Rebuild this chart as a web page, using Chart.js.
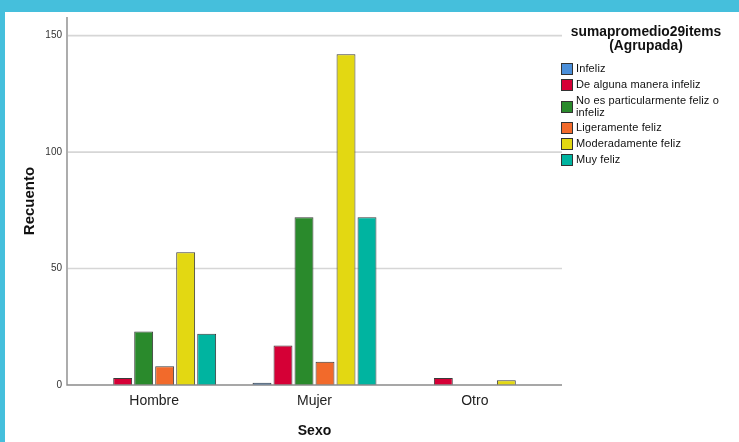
<!DOCTYPE html>
<html>
<head>
<meta charset="utf-8">
<script src="https://cdn.jsdelivr.net/npm/chart.js@4/dist/chart.umd.min.js"></script>
<style>
  html, body { margin: 0; padding: 0; }
  body { width: 739px; height: 442px; background: #45BFDC; position: relative; overflow: hidden; font-family: "Liberation Sans", Arial, sans-serif; }
  #panel { position: absolute; left: 5px; top: 12px; width: 734px; height: 430px; background: #ffffff; }
  #c { position: absolute; left: 0; top: 0; }
  #legend { position: absolute; left: 556px; top: 13px; width: 180px; color: #111; }
  #legend .title { font-weight: bold; font-size: 13.8px; line-height: 14px; text-align: center; width: 170px; color: #111; }
  #legend .items { margin-top: 8px; }
  #legend .item { display: flex; align-items: center; min-height: 16px; }
  #legend .item.two { min-height: 27px; }
  #legend .box { width: 10px; height: 10px; border: 1px solid #333; flex: 0 0 auto; margin-right: 3px; }
  #legend .txt { font-size: 11px; line-height: 11.5px; letter-spacing: 0.12px; width: 150px; color: #111; }
</style>
</head>
<body>
<div id="panel">
  <canvas id="c" width="734" height="430"></canvas>
  <div id="legend"></div>
</div>
<script>
const categories = ["Hombre", "Mujer", "Otro"];
const seriesNames = ["Infeliz", "De alguna manera infeliz", "No es particularmente feliz o infeliz", "Ligeramente feliz", "Moderadamente feliz", "Muy feliz"];
const infeliz = [0, 1, 0];
const algunaInfeliz = [3, 17, 3];
const noEsParticular = [23, 72, 0];
const ligeramente = [8, 10, 0];
const moderadamente = [57, 142, 2];
const muyFeliz = [22, 72, 0];
const seriesColors = ["#4A8FDA", "#D50036", "#2A8A2C", "#F26A2B", "#E3D812", "#00B4A0"];
const yTicks = [0, 50, 100, 150];
const legendTitle = ["sumapromedio29items", "(Agrupada)"];
const xTitle = "Sexo";
const yTitle = "Recuento";

const allSeries = [infeliz, algunaInfeliz, noEsParticular, ligeramente, moderadamente, muyFeliz];

const EXT = 7;
const axisLines = {
  id: 'axisLines',
  beforeDatasetsDraw(chart) {
    const { ctx, chartArea: a, scales: { y } } = chart;
    ctx.save();
    ctx.strokeStyle = '#d6d6d6';
    ctx.lineWidth = 1.6;
    y.ticks.forEach(t => {
      if (t.value === 0) return;
      const py = y.getPixelForValue(t.value);
      ctx.beginPath(); ctx.moveTo(a.left - EXT + 1, py); ctx.lineTo(a.right + EXT, py); ctx.stroke();
    });
    ctx.restore();
  },
  afterDatasetsDraw(chart) {
    const { ctx, chartArea: a, scales: { y } } = chart;
    ctx.save();
    ctx.strokeStyle = '#8a8a8a';
    ctx.lineWidth = 1.4;
    const by = y.getPixelForValue(0);
    ctx.beginPath(); ctx.moveTo(a.left - EXT, a.top); ctx.lineTo(a.left - EXT, by); ctx.lineTo(a.right + EXT, by); ctx.stroke();
    ctx.restore();
  }
};

const chart = new Chart(document.getElementById('c'), {
  type: 'bar',
  data: {
    labels: categories,
    datasets: allSeries.map((d, i) => ({
      label: seriesNames[i],
      data: d,
      backgroundColor: seriesColors[i],
      borderColor: '#3a3a3a',
      borderWidth: ctx => (ctx.raw === 0 ? 0 : 1),
      borderSkipped: 'start',
      barPercentage: 0.9,
      categoryPercentage: 0.786
    }))
  },
  options: {
    responsive: false,
    animation: false,
    devicePixelRatio: 1,
    layout: { padding: { top: 5, right: 184, left: 0, bottom: 0 } },
    plugins: { legend: { display: false }, tooltip: { enabled: false } },
    scales: {
      x: {
        grid: { display: false, drawTicks: false },
        border: { display: false },
        ticks: { color: '#222', font: { family: 'Liberation Sans', size: 14 }, padding: 8 },
        title: { display: true, text: xTitle, color: '#111', font: { family: 'Liberation Sans', size: 14, weight: 'bold' }, padding: { top: 0, bottom: 2 } },
        afterFit: s => { s.height = 57; s.paddingLeft = 0; s.paddingRight = 0; }
      },
      y: {
        min: 0, max: 158,
        grid: { display: false, drawTicks: false },
        border: { display: false },
        afterBuildTicks: s => { s.ticks = yTicks.map(v => ({ value: v })); },
        ticks: { color: '#333', font: { family: 'Liberation Sans', size: 10 }, padding: 12 },
        title: { display: true, text: yTitle, color: '#111', font: { family: 'Liberation Sans', size: 15, weight: 'bold' }, padding: { top: 16, bottom: 0 } },
        afterFit: s => { s.width = 69; s.paddingTop = 0; s.paddingBottom = 0; }
      }
    }
  },
  plugins: [axisLines]
});

// HTML legend built from chart datasets
const lg = document.getElementById('legend');
const t = document.createElement('div');
t.className = 'title';
t.innerHTML = legendTitle.join('<br>');
lg.appendChild(t);
const items = document.createElement('div');
items.className = 'items';
chart.data.datasets.forEach((ds, i) => {
  const it = document.createElement('div');
  it.className = 'item' + (ds.label.length > 30 ? ' two' : '');
  const b = document.createElement('span');
  b.className = 'box';
  b.style.background = ds.backgroundColor;
  const tx = document.createElement('span');
  tx.className = 'txt';
  tx.textContent = ds.label;
  it.appendChild(b); it.appendChild(tx);
  items.appendChild(it);
});
lg.appendChild(items);
</script>
</body>
</html>
